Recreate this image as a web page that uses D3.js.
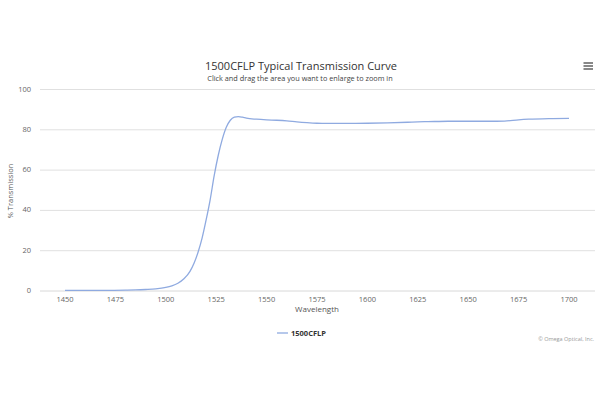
<!DOCTYPE html>
<html>
<head>
<meta charset="utf-8">
<script src="https://cdn.jsdelivr.net/npm/d3@7"></script>
<style>
  html, body { margin: 0; padding: 0; background: #fff; }
  svg { display: block; }
</style>
</head>
<body>
<svg id="chart" width="600" height="400"></svg>
<script>
// ---- data ----
const wavelengths = [1450,1460,1470,1480,1485,1490,1495,1500,1503,1506,1509,1512,1514,1516,1518,1520,1522,1524,1526,1528,1530,1532,1534,1536,1538,1540,1545,1550,1555,1560,1565,1570,1575,1580,1590,1600,1610,1620,1625,1630,1640,1650,1660,1668,1675,1680,1690,1700];
const transmission = [0.1,0.1,0.1,0.2,0.3,0.5,0.8,1.5,2.3,3.6,5.8,9.5,13.5,19,26,35,45,57,67,75,81,84.5,86,86.3,86,85.5,85,84.7,84.5,84.2,83.7,83.3,83,82.9,82.9,83,83.2,83.5,83.7,83.8,84,84,84,84.1,84.7,85,85.3,85.4];
const xTicks = [1450,1475,1500,1525,1550,1575,1600,1625,1650,1675,1700];
const yTicks = [0,20,40,60,80,100];
const seriesName = "1500CFLP";
const titleText = "1500CFLP Typical Transmission Curve";
const subtitleText = "Click and drag the area you want to enlarge to zoom in";
const xTitle = "Wavelength";
const yTitle = "% Transmission";
const creditText = "© Omega Optical, Inc.";

// ---- layout ----
const plotLeft = 40, plotRight = 595;
const font = "'Open Sans', 'Liberation Sans', sans-serif";
const lineColor = "#8faae0";
const svg = d3.select("#chart");

const x = d3.scaleLinear().domain([1450, 1700]).range([65, 569]);
const y = d3.scaleLinear().domain([0, 100]).range([290.5, 89]);

// gridlines
svg.append("g").selectAll("line").data(yTicks.filter(d => d > 0)).join("line")
  .attr("x1", plotLeft).attr("x2", plotRight)
  .attr("y1", d => y(d) + 0.5).attr("y2", d => y(d) + 0.5)
  .attr("stroke", "#e0e0e0").attr("stroke-width", 1);

// x axis line
svg.append("line")
  .attr("x1", plotLeft).attr("x2", plotRight)
  .attr("y1", y(0) + 0.5).attr("y2", y(0) + 0.5)
  .attr("stroke", "#d8d8d8").attr("stroke-width", 1);

// y labels
svg.append("g").selectAll("text").data(yTicks).join("text")
  .attr("x", 31).attr("y", d => y(d) + 2.5)
  .attr("text-anchor", "end")
  .attr("font-family", font).attr("font-size", 7.5).attr("fill", "#666")
  .text(d => d);

// x labels
svg.append("g").selectAll("text").data(xTicks).join("text")
  .attr("x", d => x(d)).attr("y", 301.5)
  .attr("text-anchor", "middle")
  .attr("font-family", font).attr("font-size", 7.5).attr("fill", "#666")
  .text(d => d);

// axis titles
svg.append("text")
  .attr("x", 317).attr("y", 312)
  .attr("text-anchor", "middle")
  .attr("font-family", font).attr("font-size", 8).attr("fill", "#555")
  .text(xTitle);

svg.append("text")
  .attr("transform", "translate(13,191) rotate(-90)")
  .attr("text-anchor", "middle")
  .attr("font-family", font).attr("font-size", 7.5).attr("fill", "#555")
  .text(yTitle);

// curve
const pts = wavelengths.map((w, i) => [w, transmission[i]]);
svg.append("path")
  .datum(pts)
  .attr("fill", "none")
  .attr("stroke", lineColor)
  .attr("stroke-width", 1.3)
  .attr("d", d3.line().x(d => x(d[0])).y(d => y(d[1])).curve(d3.curveMonotoneX));

// title & subtitle
svg.append("text")
  .attr("x", 301).attr("y", 69.5)
  .attr("text-anchor", "middle")
  .attr("font-family", font).attr("font-size", 11).attr("fill", "#333")
  .text(titleText);

svg.append("text")
  .attr("x", 300).attr("y", 81)
  .attr("text-anchor", "middle")
  .attr("font-family", font).attr("font-size", 7.3).attr("fill", "#444")
  .text(subtitleText);

// menu icon
svg.append("g").selectAll("line").data([0, 1, 2]).join("line")
  .attr("x1", 583.5).attr("x2", 593)
  .attr("y1", d => 63 + d * 3).attr("y2", d => 63 + d * 3)
  .attr("stroke", "#555").attr("stroke-width", 1.4);

// legend
svg.append("line")
  .attr("x1", 277).attr("x2", 288)
  .attr("y1", 333).attr("y2", 333)
  .attr("stroke", lineColor).attr("stroke-width", 1.3);
svg.append("text")
  .attr("x", 291).attr("y", 335.5)
  .attr("font-family", font).attr("font-size", 7.5).attr("font-weight", "bold").attr("fill", "#333")
  .text(seriesName);

// credits
svg.append("text")
  .attr("x", 594).attr("y", 340.5)
  .attr("text-anchor", "end")
  .attr("font-family", font).attr("font-size", 5.5).attr("fill", "#999")
  .text(creditText);
</script>
</body>
</html>
